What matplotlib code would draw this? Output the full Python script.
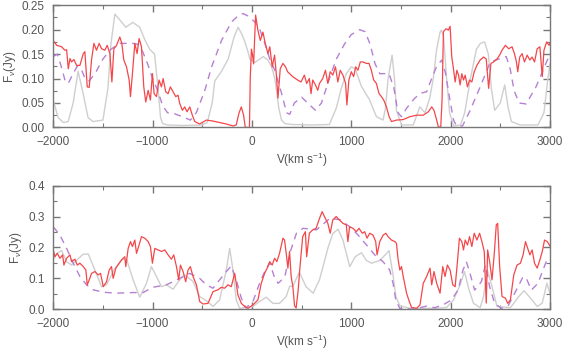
import matplotlib
matplotlib.use('Agg')
import matplotlib.pyplot as plt
from matplotlib.ticker import MultipleLocator, FormatStrFormatter
import numpy as np

plt.rcParams['font.family'] = ['Liberation Sans', 'DejaVu Sans']
plt.rcParams['mathtext.fontset'] = 'custom'
plt.rcParams['mathtext.rm'] = 'Liberation Sans'
plt.rcParams['mathtext.it'] = 'Liberation Sans:italic'

# ---- top panel: (velocity km/s, flux Jy)
top_obs = [(-2000, 0.178), (-1966, 0.168), (-1916, 0.165), (-1883, 0.158), (-1866, 0.159),
           (-1849, 0.12), (-1832, 0.141), (-1816, 0.134), (-1792, 0.139), (-1765, 0.127),
           (-1732, 0.127), (-1698, 0.151), (-1682, 0.155), (-1658, 0.083), (-1638, 0.082),
           (-1615, 0.138), (-1591, 0.172), (-1565, 0.158), (-1538, 0.172), (-1514, 0.161),
           (-1481, 0.158), (-1457, 0.168), (-1430, 0.151), (-1410, 0.093), (-1390, 0.161),
           (-1363, 0.168), (-1330, 0.185), (-1310, 0.172), (-1290, 0.138), (-1263, 0.124),
           (-1236, 0.097), (-1223, 0.063), (-1203, 0.11), (-1179, 0.172), (-1156, 0.151),
           (-1136, 0.182), (-1112, 0.165), (-1089, 0.083), (-1069, 0.052), (-1045, 0.076),
           (-1022, 0.056), (-1002, 0.11), (-985, 0.069), (-961, 0.063), (-935, 0.097),
           (-911, 0.083), (-894, 0.10), (-868, 0.073), (-844, 0.069), (-821, 0.083),
           (-794, 0.073), (-767, 0.063), (-744, 0.066), (-727, 0.049), (-700, 0.035),
           (-677, 0.042), (-653, 0.032), (-626, 0.042), (-600, 0.025), (-576, 0.012),
           (-526, 0.007), (-459, 0.015), (-392, 0.013), (-325, 0.01), (-258, 0.007),
           (-191, 0.003), (-158, 0.005), (-131, 0.029), (-107, 0.042), (-84, 0.025),
           (-67, 0.0), (-40, 0.0), (-25, 0.0), (-17, 0.1), (-5, 0.16), (5, 0.15),
           (17, 0.13), (37, 0.23), (60, 0.199), (84, 0.178), (111, 0.195), (134, 0.172),
           (161, 0.151), (180, 0.165), (204, 0.124), (228, 0.148), (245, 0.11), (262, 0.06),
           (285, 0.12), (312, 0.131), (338, 0.124), (359, 0.114), (410, 0.104), (460, 0.097),
           (494, 0.093), (528, 0.107), (551, 0.09), (578, 0.10), (595, 0.069), (612, 0.097),
           (639, 0.087), (663, 0.076), (680, 0.09), (713, 0.10), (740, 0.117), (764, 0.09),
           (788, 0.114), (814, 0.107), (841, 0.124), (865, 0.093), (889, 0.117), (916, 0.107),
           (943, 0.09), (956, 0.046), (976, 0.097), (1000, 0.114), (1024, 0.104),
           (1044, 0.124), (1067, 0.117), (1091, 0.134), (1118, 0.134), (1152, 0.131),
           (1179, 0.131), (1202, 0.117), (1226, 0.097), (1253, 0.09), (1280, 0.069),
           (1304, 0.063), (1327, 0.056), (1354, 0.042), (1381, 0.022), (1405, 0.012),
           (1455, 0.015), (1523, 0.016), (1590, 0.022), (1658, 0.025), (1725, 0.025),
           (1776, 0.032), (1810, 0.042), (1833, 0.035), (1860, 0.015), (1877, 0.001),
           (1901, 0.001), (1914, 0.056), (1928, 0.196), (1955, 0.202), (1978, 0.199),
           (1995, 0.207), (2012, 0.144), (2029, 0.12), (2046, 0.093), (2063, 0.117),
           (2080, 0.107), (2096, 0.087), (2113, 0.11), (2130, 0.097), (2147, 0.107),
           (2170, 0.083), (2191, 0.097), (2214, 0.093), (2238, 0.114), (2265, 0.127),
           (2298, 0.138), (2332, 0.144), (2359, 0.14), (2383, 0.08), (2406, 0.131),
           (2433, 0.134), (2467, 0.14), (2494, 0.148), (2518, 0.158), (2552, 0.168),
           (2585, 0.161), (2619, 0.165), (2643, 0.151), (2663, 0.134), (2676, 0.114),
           (2696, 0.144), (2720, 0.151), (2744, 0.134), (2771, 0.148), (2798, 0.138),
           (2821, 0.144), (2845, 0.134), (2872, 0.161), (2899, 0.165), (2923, 0.104),
           (2940, 0.158), (2967, 0.175), (2991, 0.168), (3000, 0.172)]

top_grey = [(-2000, 0.055), (-1950, 0.02), (-1900, 0.01), (-1850, 0.012), (-1800, 0.05),
            (-1750, 0.115), (-1700, 0.07), (-1650, 0.02), (-1600, 0.012), (-1500, 0.015),
            (-1450, 0.08), (-1420, 0.17), (-1380, 0.232), (-1330, 0.22), (-1270, 0.205),
            (-1200, 0.215), (-1130, 0.205), (-1080, 0.18), (-1030, 0.16), (-980, 0.15),
            (-950, 0.09), (-920, 0.02), (-900, 0.008), (-850, 0.005), (-700, 0.004),
            (-500, 0.005), (-450, 0.01), (-400, 0.05), (-374, 0.095), (-306, 0.115),
            (-239, 0.14), (-180, 0.185), (-139, 0.205), (-100, 0.19), (-71, 0.175),
            (-40, 0.155), (-21, 0.14), (29, 0.133), (80, 0.14), (113, 0.145), (160, 0.138),
            (197, 0.125), (230, 0.1), (247, 0.076), (270, 0.04), (298, 0.015), (330, 0.008),
            (400, 0.006), (600, 0.005), (780, 0.006), (850, 0.04), (900, 0.08), (950, 0.11),
            (1000, 0.124), (1040, 0.12), (1100, 0.085), (1185, 0.056), (1253, 0.022),
            (1320, 0.015), (1345, 0.04), (1371, 0.1), (1411, 0.148), (1435, 0.1),
            (1455, 0.035), (1505, 0.005), (1624, 0.005), (1660, 0.025), (1690, 0.042),
            (1742, 0.03), (1790, 0.06), (1826, 0.1), (1860, 0.16), (1894, 0.195),
            (1907, 0.199), (1930, 0.185), (1960, 0.1), (1990, 0.03), (2030, 0.003),
            (2100, 0.005), (2142, 0.03), (2200, 0.1), (2260, 0.16), (2300, 0.172),
            (2343, 0.175), (2380, 0.15), (2410, 0.08), (2444, 0.035), (2500, 0.05),
            (2545, 0.087), (2580, 0.04), (2612, 0.012), (2700, 0.005), (2880, 0.005),
            (2940, 0.03), (2980, 0.1), (3000, 0.13)]

top_model = [(-2000, 0.145), (-1960, 0.15), (-1920, 0.125), (-1880, 0.095), (-1850, 0.09),
             (-1800, 0.11), (-1760, 0.125), (-1720, 0.12), (-1680, 0.1), (-1640, 0.095),
             (-1580, 0.11), (-1500, 0.14), (-1420, 0.16), (-1330, 0.172), (-1200, 0.172),
             (-1150, 0.17), (-1100, 0.155), (-1050, 0.13), (-1000, 0.1), (-950, 0.076),
             (-900, 0.045), (-850, 0.03), (-780, 0.028), (-700, 0.022), (-620, 0.015),
             (-560, 0.03), (-474, 0.076), (-406, 0.124), (-306, 0.178), (-205, 0.216),
             (-130, 0.23), (-89, 0.233), (-40, 0.228), (29, 0.216), (80, 0.2), (130, 0.172),
             (180, 0.14), (230, 0.117), (298, 0.07), (349, 0.03), (381, 0.027), (427, 0.05),
             (500, 0.062), (560, 0.05), (640, 0.035), (700, 0.05), (780, 0.1), (850, 0.14),
             (930, 0.17), (1000, 0.19), (1084, 0.2), (1140, 0.196), (1190, 0.17),
             (1240, 0.13), (1287, 0.11), (1340, 0.11), (1380, 0.11), (1430, 0.08),
             (1470, 0.03), (1505, 0.022), (1560, 0.04), (1640, 0.06), (1700, 0.07),
             (1759, 0.073), (1800, 0.095), (1860, 0.125), (1911, 0.138), (1950, 0.11),
             (1990, 0.06), (2030, 0.015), (2060, 0.003), (2120, 0.003), (2197, 0.035),
             (2298, 0.083), (2400, 0.134), (2500, 0.141), (2560, 0.145), (2600, 0.12),
             (2640, 0.075), (2690, 0.05), (2760, 0.048), (2860, 0.083), (2960, 0.131),
             (3000, 0.15)]

# ---- bottom panel
bot_obs = [(-2000, 0.192), (-1983, 0.17), (-1960, 0.181), (-1933, 0.165), (-1906, 0.176),
           (-1893, 0.143), (-1866, 0.165), (-1832, 0.176), (-1816, 0.154), (-1782, 0.162),
           (-1759, 0.143), (-1732, 0.149), (-1698, 0.138), (-1672, 0.127), (-1658, 0.079),
           (-1638, 0.095), (-1615, 0.116), (-1581, 0.122), (-1548, 0.111), (-1524, 0.116),
           (-1497, 0.073), (-1464, 0.089), (-1437, 0.127), (-1414, 0.138), (-1397, 0.1),
           (-1370, 0.133), (-1337, 0.149), (-1313, 0.16), (-1280, 0.17), (-1270, 0.138),
           (-1246, 0.197), (-1223, 0.219), (-1203, 0.203), (-1179, 0.224), (-1162, 0.181),
           (-1136, 0.208), (-1112, 0.235), (-1079, 0.23), (-1045, 0.219), (-1022, 0.203),
           (-1002, 0.149), (-978, 0.197), (-945, 0.192), (-911, 0.187), (-878, 0.192),
           (-844, 0.176), (-811, 0.162), (-787, 0.176), (-760, 0.138), (-737, 0.095),
           (-720, 0.143), (-693, 0.122), (-667, 0.089), (-643, 0.127), (-620, 0.138),
           (-593, 0.106), (-559, 0.079), (-526, 0.025), (-492, 0.017), (-442, 0.019),
           (-392, 0.057), (-342, 0.063), (-308, 0.071), (-275, 0.068), (-241, 0.079),
           (-208, 0.073), (-191, 0.095), (-174, 0.116), (-158, 0.084), (-141, 0.046),
           (-107, 0.019), (-74, 0.009), (-40, 0.003), (10, 0.014), (60, 0.03), (94, 0.084),
           (127, 0.116), (161, 0.138), (178, 0.154), (204, 0.143), (228, 0.165),
           (251, 0.154), (278, 0.181), (312, 0.23), (328, 0.224), (345, 0.181),
           (362, 0.133), (379, 0.187), (395, 0.106), (412, 0.073), (429, 0.011),
           (445, 0.004), (465, 0.06), (484, 0.138), (511, 0.235), (538, 0.251), (551, 0.17),
           (578, 0.246), (612, 0.257), (646, 0.262), (680, 0.294), (707, 0.316), (730, 0.3),
           (764, 0.278), (788, 0.246), (814, 0.289), (848, 0.3), (882, 0.289), (916, 0.278),
           (950, 0.273), (966, 0.219), (983, 0.267), (1017, 0.262), (1051, 0.251),
           (1078, 0.262), (1111, 0.246), (1135, 0.251), (1159, 0.23), (1186, 0.246),
           (1219, 0.24), (1246, 0.219), (1260, 0.176), (1287, 0.219), (1321, 0.24),
           (1348, 0.246), (1371, 0.235), (1405, 0.224), (1439, 0.219), (1455, 0.213),
           (1472, 0.16), (1489, 0.127), (1506, 0.138), (1523, 0.106), (1540, 0.079),
           (1557, 0.052), (1584, 0.025), (1607, 0.006), (1658, 0.003), (1692, 0.014),
           (1725, 0.084), (1759, 0.106), (1793, 0.133), (1810, 0.079), (1833, 0.122),
           (1860, 0.084), (1894, 0.052), (1921, 0.138), (1944, 0.106), (1968, 0.143),
           (1995, 0.127), (2022, 0.079), (2046, 0.073), (2069, 0.154), (2089, 0.23),
           (2113, 0.219), (2130, 0.192), (2147, 0.224), (2170, 0.208), (2191, 0.235),
           (2214, 0.203), (2238, 0.246), (2265, 0.224), (2292, 0.246), (2315, 0.219),
           (2339, 0.187), (2359, 0.02), (2373, 0.192), (2393, 0.154), (2417, 0.095),
           (2440, 0.181), (2460, 0.273), (2474, 0.278), (2494, 0.138), (2518, 0.041),
           (2552, 0.036), (2575, 0.019), (2602, 0.03), (2636, 0.111), (2669, 0.143),
           (2703, 0.149), (2730, 0.176), (2754, 0.219), (2777, 0.197), (2798, 0.176),
           (2821, 0.192), (2845, 0.149), (2872, 0.133), (2899, 0.16), (2923, 0.187),
           (2946, 0.224), (2973, 0.219), (3000, 0.205)]

bot_grey = [(-2000, 0.16), (-1966, 0.18), (-1916, 0.19), (-1866, 0.154), (-1816, 0.143),
            (-1760, 0.16), (-1700, 0.178), (-1648, 0.179), (-1581, 0.127), (-1514, 0.073),
            (-1464, 0.079), (-1380, 0.133), (-1300, 0.162), (-1260, 0.16), (-1196, 0.095),
            (-1129, 0.039), (-1062, 0.084), (-1012, 0.138), (-961, 0.106), (-911, 0.073),
            (-861, 0.079), (-794, 0.065), (-727, 0.095), (-677, 0.111), (-593, 0.09),
            (-526, 0.041), (-459, 0.028), (-392, 0.009), (-325, 0.03), (-258, 0.127),
            (-224, 0.197), (-191, 0.127), (-158, 0.03), (-124, 0.003), (10, 0.009),
            (77, 0.025), (144, 0.039), (211, 0.019), (278, 0.019), (345, 0.041),
            (380, 0.075), (410, 0.073), (477, 0.12), (545, 0.073), (616, 0.052),
            (680, 0.095), (767, 0.2), (814, 0.245), (867, 0.259), (916, 0.224),
            (985, 0.138), (1040, 0.17), (1103, 0.183), (1152, 0.158), (1204, 0.149),
            (1287, 0.158), (1354, 0.18), (1380, 0.19), (1421, 0.11), (1449, 0.041),
            (1489, 0.011), (1590, 0.003), (1860, 0.003), (1961, 0.006), (2029, 0.03),
            (2096, 0.079), (2140, 0.122), (2181, 0.068), (2231, 0.019), (2298, 0.005),
            (2330, 0.04), (2370, 0.127), (2417, 0.073), (2467, 0.009), (2602, 0.005),
            (2686, 0.041), (2740, 0.06), (2804, 0.036), (2872, 0.009), (2923, 0.02),
            (2970, 0.084), (3000, 0.052)]

bot_model = [(-2000, 0.267), (-1933, 0.24), (-1866, 0.197), (-1799, 0.149), (-1732, 0.106),
             (-1665, 0.079), (-1598, 0.063), (-1497, 0.055), (-1363, 0.052), (-1196, 0.054),
             (-1096, 0.054), (-1000, 0.071), (-861, 0.079), (-727, 0.1), (-626, 0.116),
             (-526, 0.1), (-459, 0.079), (-392, 0.068), (-325, 0.095), (-258, 0.122),
             (-208, 0.14), (-158, 0.095), (-107, 0.036), (-60, 0.004), (10, 0.025),
             (77, 0.084), (144, 0.133), (180, 0.15), (230, 0.1), (264, 0.084), (331, 0.105),
             (381, 0.181), (448, 0.246), (515, 0.262), (650, 0.257), (784, 0.294),
             (884, 0.29), (985, 0.267), (1069, 0.24), (1153, 0.208), (1236, 0.176),
             (1320, 0.154), (1387, 0.127), (1421, 0.084), (1448, 0.03), (1488, 0.003),
             (1622, 0.0), (1756, 0.01), (1840, 0.005), (1924, 0.014), (2008, 0.03),
             (2075, 0.062), (2125, 0.127), (2159, 0.154), (2192, 0.12), (2242, 0.062),
             (2310, 0.089), (2350, 0.143), (2393, 0.073), (2444, 0.019), (2511, 0.003),
             (2578, 0.01), (2662, 0.062), (2729, 0.105), (2763, 0.1), (2813, 0.062),
             (2880, 0.084), (2930, 0.127), (2963, 0.154), (3000, 0.143)]

panels = [(top_obs, top_grey, top_model, 0.25, 0.05, 0.025, '%.2f'),
          (bot_obs, bot_grey, bot_model, 0.4, 0.1, 0.05, '%.1f')]

axis_grey = '#777777'
text_grey = '#555555'

fig = plt.figure(figsize=(5.65, 3.51), dpi=100)
rects = [[0.0943, 0.637, 0.879, 0.348], [0.0943, 0.119, 0.879, 0.352]]

for rect, (obs, grey, model, ymax, ymaj, ymin, fmt) in zip(rects, panels):
    ax = fig.add_axes(rect)
    g = np.array(grey)
    m = np.array(model)
    o = np.array(obs)
    ax.plot(g[:, 0], g[:, 1], color='#cfcfcf', lw=1.0)
    ax.plot(m[:, 0], m[:, 1], color='#b680d4', lw=1.0, dashes=(5, 4))
    ax.plot(o[:, 0], o[:, 1], color='#f4474a', lw=0.9)

    ax.set_xlim(-2000, 3000)
    ax.set_ylim(0, ymax)
    ax.xaxis.set_major_locator(MultipleLocator(1000))
    ax.xaxis.set_minor_locator(MultipleLocator(500))
    ax.yaxis.set_major_locator(MultipleLocator(ymaj))
    ax.yaxis.set_minor_locator(MultipleLocator(ymin))
    ax.yaxis.set_major_formatter(FormatStrFormatter(fmt))
    ax.tick_params(which='both', direction='in', top=True, right=True,
                   color=axis_grey, labelcolor=text_grey, labelsize=8.5)
    ax.tick_params(which='major', length=5, width=1.0, pad=6)
    ax.tick_params(which='minor', length=3, width=0.8)
    for sp in ax.spines.values():
        sp.set_color(axis_grey)
        sp.set_linewidth(1.0)
    ax.set_xlabel(r'V(km s$^{-1}$)', color=text_grey, fontsize=8.5, labelpad=2)
    ax.set_ylabel(r'F$_{\nu}$(Jy)', color=text_grey, fontsize=8.5, labelpad=3)

fig.savefig('out.png', dpi=100)
